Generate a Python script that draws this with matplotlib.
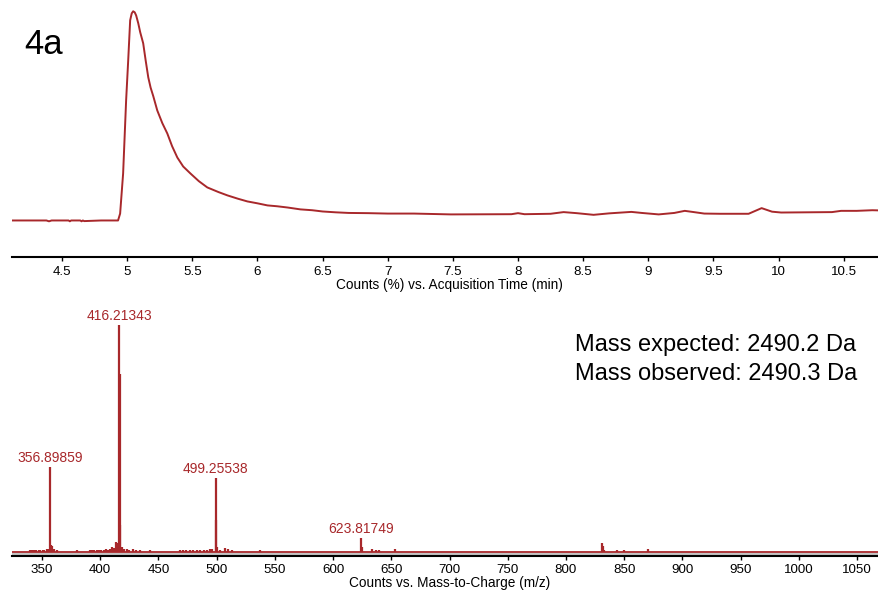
import matplotlib
matplotlib.use("Agg")
import matplotlib.pyplot as plt

plt.rcParams['font.family'] = ['Liberation Sans', 'DejaVu Sans']

RED = '#a8282b'

# Total ion chromatogram: acquisition time (min) and relative counts (%)
tic_time = [4.116, 4.30, 4.38, 4.40, 4.42, 4.55, 4.56, 4.57, 4.64, 4.65, 4.66, 4.67,
            4.80, 4.93, 4.946, 4.969, 4.992, 5.008, 5.023, 5.035, 5.046, 5.058, 5.069,
            5.085, 5.10, 5.123, 5.142, 5.162, 5.18, 5.20, 5.231, 5.27, 5.308, 5.345,
            5.385, 5.43, 5.485, 5.55, 5.615, 5.70, 5.769, 5.85, 5.923, 6.0, 6.077,
            6.15, 6.231, 6.33, 6.42, 6.5, 6.6, 6.7, 6.85, 7.0, 7.2, 7.485, 7.95, 8.0,
            8.05, 8.25, 8.35, 8.45, 8.58, 8.70, 8.87, 8.95, 9.08, 9.2, 9.28, 9.35,
            9.43, 9.55, 9.77, 9.87, 9.95, 10.02, 10.41, 10.48, 10.6, 10.72, 10.78]
tic_counts = [0.0, 0.0, 0.0, -0.4, 0.0, 0.0, -0.4, 0.0, 0.0, -0.4, 0.0, -0.3,
              0.0, 0.0, 3.3, 22.5, 57.4, 76.6, 95.7, 99.0, 100.0, 99.5, 98.0,
              94.3, 90.0, 84.7, 76.5, 68.4, 63.5, 59.5, 52.6, 46.5, 41.6, 35.5,
              30.1, 25.8, 22.5, 18.8, 15.8, 13.6, 12.0, 10.4, 9.1, 8.2, 7.2,
              6.8, 6.2, 5.3, 4.9, 4.3, 3.9, 3.6, 3.5, 3.3, 3.3, 2.9, 3.0, 3.5,
              3.0, 3.2, 4.0, 3.5, 2.7, 3.4, 4.1, 3.6, 2.9, 3.6, 4.6, 4.0,
              3.3, 3.2, 3.2, 5.9, 4.2, 3.8, 4.0, 4.6, 4.6, 4.9, 4.8]

# Mass spectrum: m/z and relative abundance (%)
ms_mz = [339.5, 341.5, 343.0, 345.0, 347.0, 348.5, 350.5, 352.0, 354.0, 355.5,
         356.9, 357.4, 358.8, 360.0, 362.5, 379.8,
         391.5, 393.0, 395.0, 397.0, 399.0, 401.0, 403.0, 405.0, 407.0, 408.5,
         409.8, 411.5, 413.3, 414.6, 416.21, 416.55, 416.9, 418.4, 420.0, 422.7,
         425.0, 428.0, 431.0, 434.0, 442.7,
         468.5, 471.0, 474.0, 477.0, 480.0, 483.0, 486.0, 489.0, 492.0, 494.5,
         496.2, 499.26, 499.6, 500.3, 503.0, 507.1, 509.5, 512.9, 537.2,
         623.82, 624.4, 633.5, 636.5, 639.5, 653.0,
         831.0, 831.6, 832.4, 844.0, 849.5, 870.5]
ms_int = [0.8, 0.9, 0.7, 1.0, 0.8, 0.9, 1.1, 0.9, 1.2, 1.4,
          37.3, 3.0, 2.6, 1.2, 0.8, 0.8,
          0.8, 0.9, 0.8, 1.0, 0.9, 1.1, 0.8, 1.2, 1.0, 1.5,
          2.3, 1.8, 4.3, 3.8, 100.0, 78.4, 12.0, 2.3, 1.4, 1.5,
          1.0, 1.2, 0.9, 0.8, 0.9,
          0.8, 0.9, 1.0, 0.8, 1.1, 0.9, 1.0, 1.1, 0.9, 1.2,
          1.5, 32.5, 14.3, 2.0, 1.0, 1.6, 1.2, 0.9, 0.8,
          6.0, 2.0, 1.2, 1.1, 1.0, 1.3,
          3.8, 2.5, 1.0, 1.1, 1.0, 1.4]

# Labelled peaks
label_mz = [356.89859, 416.21343, 499.25538, 623.81749]
label_int = [37.3, 100.0, 32.5, 6.0]

fig = plt.figure(figsize=(8.79, 5.90), dpi=100)
W, H = 879.0, 590.0

def axes_box(left, top, right, bottom):
    return [left / W, 1 - bottom / H, (right - left) / W, (bottom - top) / H]

def style_axis(ax):
    for side in ('top', 'left', 'right'):
        ax.spines[side].set_visible(False)
    ax.spines['bottom'].set_linewidth(1.5)
    ax.spines['bottom'].set_color('black')
    ax.set_yticks([])
    ax.tick_params(axis='x', direction='out', length=3, width=1, pad=3,
                   labelsize=9.6, colors='black')
    ax.patch.set_alpha(0)

# Chromatogram
ax1 = fig.add_axes(axes_box(12, 5, 879, 257.5))
ax1.plot(tic_time, tic_counts, color=RED, lw=1.4, solid_joinstyle='round')
ax1.set_xlim(4.116, 10.771)
ax1.set_ylim(-17.7, 103)
ax1.set_xticks([4.5, 5, 5.5, 6, 6.5, 7, 7.5, 8, 8.5, 9, 9.5, 10, 10.5])
ax1.set_xticklabels(['4.5', '5', '5.5', '6', '6.5', '7', '7.5', '8', '8.5',
                     '9', '9.5', '10', '10.5'])
style_axis(ax1)
fig.text(449 / W, 1 - 285 / H, 'Counts (%) vs. Acquisition Time (min)',
         ha='center', va='center', fontsize=9.8)
fig.text(24 / W, 1 - 45 / H, '4a', ha='left', va='center', fontsize=25)

# Mass spectrum
ax2 = fig.add_axes(axes_box(12, 305, 879, 556))
ax2.set_xlim(324.2, 1068.9)
ax2.set_ylim(-1.76, 108.8)
ax2.fill_between([324.2, 1068.9], -1.6, -0.5, color='#c4c4c4', lw=0)
ax2.axhline(0, color=RED, lw=1.3)
ax2.vlines(ms_mz, 0, ms_int, color=RED, lw=1.6)
for mz, inten in zip(label_mz, label_int):
    ax2.annotate(f'{mz:.5f}', xy=(mz, inten), xytext=(0, 1.5),
                 textcoords='offset points', ha='center', va='bottom',
                 fontsize=10, color=RED)
ax2.set_xticks(list(range(350, 1051, 50)))
style_axis(ax2)
fig.text(450 / W, 1 - 583 / H, 'Counts vs. Mass-to-Charge (m/z)',
         ha='center', va='center', fontsize=9.8)

fig.text(575 / W, 1 - 345 / H, 'Mass expected: 2490.2 Da', ha='left',
         va='center', fontsize=17)
fig.text(575 / W, 1 - 374 / H, 'Mass observed: 2490.3 Da', ha='left',
         va='center', fontsize=17)

fig.savefig('out.png', dpi=100)
